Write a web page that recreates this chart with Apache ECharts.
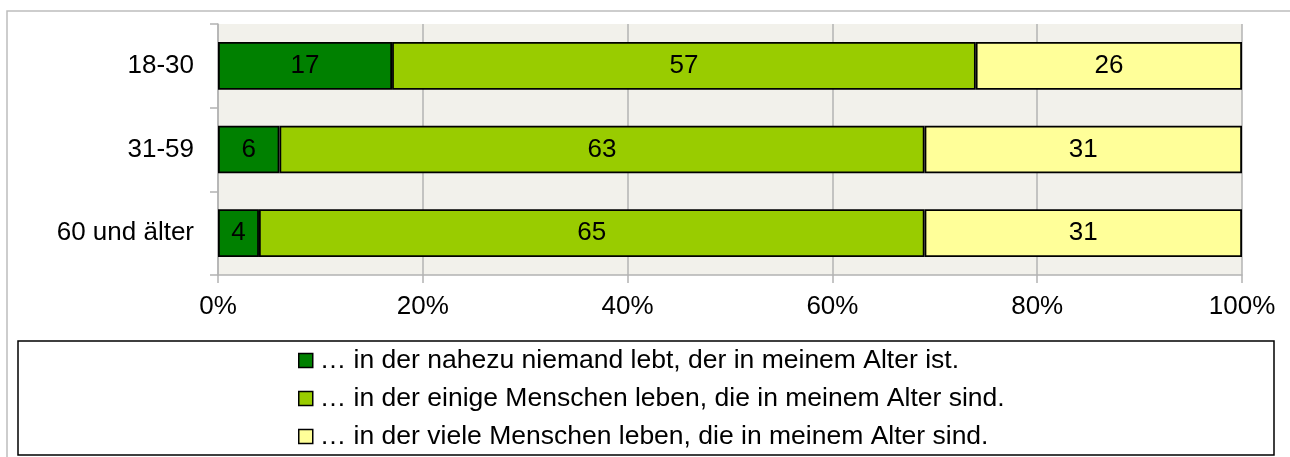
<!DOCTYPE html>
<html>
<head>
<meta charset="utf-8">
<script src="https://cdn.jsdelivr.net/npm/echarts@6/dist/echarts.min.js"></script>
<style>
  html, body { margin: 0; padding: 0; background: #fff; }
  #chart { width: 1290px; height: 457px; }
</style>
</head>
<body>
<div id="chart"></div>
<script>
// Altersgruppen
const categories = ['18-30', '31-59', '60 und älter']
const seriesNames = [
  '… in der nahezu niemand lebt, der in meinem Alter ist.',
  '… in der einige Menschen leben, die in meinem Alter sind.',
  '… in der viele Menschen leben, die in meinem Alter sind.'
]
const niemand = [17, 6, 4]
const einige = [57, 63, 65]
const viele = [26, 31, 31]
const xTicks = [0, 20, 40, 60, 80, 100]

const colors = ['#008000', '#99cc00', '#ffff99']
const font = "'Liberation Sans', Arial, sans-serif"

const makeSeries = (name, data, color) => ({
  name: name,
  type: 'bar',
  stack: 'total',
  data: data,
  barCategoryGap: '43%',
  itemStyle: { color: color, borderColor: '#000', borderWidth: 1.8 },
  label: {
    show: true,
    position: 'inside',
    color: '#000',
    fontSize: 26,
    fontFamily: font
  }
})

const option = {
  animation: false,
  textStyle: { fontFamily: font },
  graphic: [
    {
      type: 'rect',
      shape: { x: 7, y: 11, width: 1300, height: 460 },
      style: { fill: 'none', stroke: '#bdbdbd', lineWidth: 1.5 },
      z: -10
    },
    {
      type: 'rect',
      shape: { x: 18, y: 341, width: 1256, height: 114 },
      style: { fill: 'none', stroke: '#000', lineWidth: 1.5 }
    }
  ],
  legend: {
    orient: 'vertical',
    left: 298,
    top: 347,
    itemWidth: 14,
    itemHeight: 14,
    itemGap: 11,
    icon: 'rect',
    padding: 0,
    textStyle: { fontSize: 26.5, color: '#000', fontFamily: font, padding: [0, 0, 0, 2] },
    itemStyle: { borderColor: '#000', borderWidth: 1.5 },
    data: seriesNames
  },
  grid: {
    left: 218,
    right: 48,
    top: 24,
    bottom: 182,
    show: true,
    backgroundColor: '#f2f1eb',
    borderWidth: 0
  },
  xAxis: {
    type: 'value',
    min: 0,
    max: 100,
    interval: 20,
    axisLine: { show: true, lineStyle: { color: '#b3b3b3', width: 1.5 } },
    axisTick: { show: true, length: 8, lineStyle: { color: '#b3b3b3', width: 1.5 } },
    splitLine: { show: true, lineStyle: { color: '#b3b3b3', width: 1.5 } },
    axisLabel: {
      margin: 19,
      fontSize: 26,
      color: '#000',
      fontFamily: font,
      formatter: v => (xTicks.indexOf(v) >= 0 ? v + '%' : '')
    }
  },
  yAxis: {
    type: 'category',
    inverse: true,
    data: categories,
    axisLine: { show: true, lineStyle: { color: '#b3b3b3', width: 1.5 } },
    axisTick: { show: true, length: 8, lineStyle: { color: '#b3b3b3', width: 1.5 } },
    axisLabel: { margin: 24, fontSize: 26, color: '#000', fontFamily: font }
  },
  series: [
    makeSeries(seriesNames[0], niemand, colors[0]),
    makeSeries(seriesNames[1], einige, colors[1]),
    makeSeries(seriesNames[2], viele, colors[2])
  ]
}

echarts.init(document.getElementById('chart')).setOption(option)
</script>
</body>
</html>
